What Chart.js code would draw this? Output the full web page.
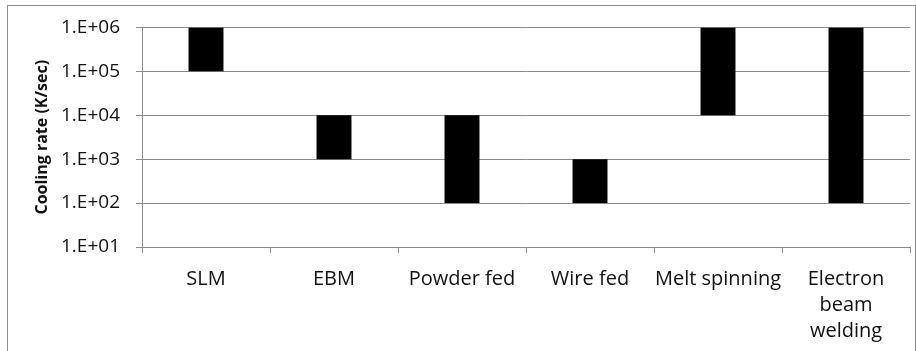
<!DOCTYPE html>
<html>
<head>
<meta charset="utf-8">
<script src="https://cdn.jsdelivr.net/npm/chart.js@4/dist/chart.umd.min.js"></script>
<style>
  html, body { margin: 0; padding: 0; background: #fff; }
  #wrap { position: relative; width: 916px; height: 351px; overflow: hidden; }
  #frame { position: absolute; left: 7px; top: 5px; width: 907px; height: 400px; border: 1px solid #8c8c8c; }
  canvas { position: absolute; left: 0; top: 0; }
</style>
</head>
<body>
<div id="wrap">
  <div id="frame"></div>
  <canvas id="myChart" width="916" height="351"></canvas>
</div>
<script>
// Categories (multi-line label for the last one)
const categories = [
  "SLM",
  "EBM",
  "Powder fed",
  "Wire fed",
  "Melt spinning",
  ["Electron", "beam", "welding"]
];

// Cooling rate ranges (K/sec), low and high end of each bar
const lowValues = [1e5, 1e3, 1e2, 1e2, 1e4, 1e2];
const highValues = [1e6, 1e4, 1e4, 1e3, 1e6, 1e6];

// Y axis ticks and their labels
const tickValues = [1e1, 1e2, 1e3, 1e4, 1e5, 1e6];
const tickLabels = ["1.E+01", "1.E+02", "1.E+03", "1.E+04", "1.E+05", "1.E+06"];

const fontFamily = "'Open Sans', sans-serif";

const data = {
  labels: categories,
  datasets: [{
    label: "Cooling rate",
    data: lowValues.map((lo, i) => [lo, highValues[i]]),
    backgroundColor: "#000000",
    borderWidth: 0,
    categoryPercentage: 1,
    barPercentage: 0.273
  }]
};

const config = {
  type: 'bar',
  data: data,
  options: {
    responsive: false,
    animation: false,
    layout: { padding: { left: 33, top: 27, right: 6, bottom: 0 } },
    plugins: {
      legend: { display: false },
      tooltip: { enabled: false }
    },
    scales: {
      x: {
        offset: true,
        grid: {
          drawOnChartArea: false,
          tickLength: 6,
          color: "#8a8a8a"
        },
        border: { color: "#8a8a8a" },
        ticks: {
          color: "#111",
          font: { family: fontFamily, size: 20, lineHeight: 1.3 },
          padding: 13,
          maxRotation: 0,
          autoSkip: false
        },
        afterFit: scale => { scale.height = 351 - 247; }
      },
      y: {
        type: 'logarithmic',
        min: 10,
        max: 1e6,
        afterBuildTicks: scale => {
          scale.ticks = tickValues.map(v => ({ value: v }));
        },
        grid: {
          color: "#8a8a8a",
          tickLength: 6
        },
        border: { color: "#8a8a8a" },
        ticks: {
          color: "#111",
          font: { family: fontFamily, size: 19 },
          padding: 16,
          callback: value => tickLabels[tickValues.indexOf(value)]
        },
        title: {
          display: true,
          text: "Cooling rate (K/sec)",
          color: "#111",
          font: { family: fontFamily, size: 16, weight: 'bold' },
          padding: { top: 0, bottom: 0 }
        },
        afterFit: scale => { scale.width = 142 - 33; }
      }
    }
  }
};

const ctx = document.getElementById('myChart').getContext('2d');
new Chart(ctx, config);
</script>
</body>
</html>
